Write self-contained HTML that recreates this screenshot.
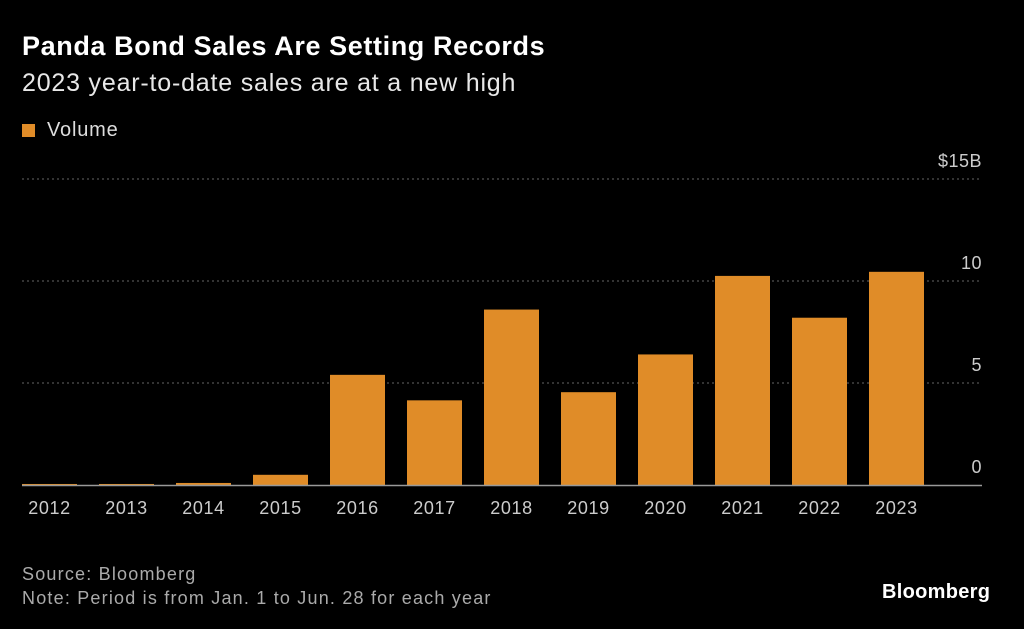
<!DOCTYPE html>
<html><head><meta charset="utf-8"><style>
body{margin:0;background:#000;width:1024px;height:629px;overflow:hidden;font-family:"Liberation Sans",sans-serif;color:#fff}
.t{position:absolute;white-space:nowrap}
</style></head><body>
<div class="t" style="left:22px;top:31px;font-size:27px;letter-spacing:0.6px;font-weight:bold">Panda Bond Sales Are Setting Records</div>
<div class="t" style="left:22px;top:69px;font-size:25px;letter-spacing:0.8px;color:#e8e8e8">2023 year-to-date sales are at a new high</div>
<div class="t" style="left:22px;top:119px;font-size:20px;letter-spacing:0.8px;color:#ddd"><span style="display:inline-block;width:13px;height:13px;background:#e08c28;margin-right:12px;vertical-align:-1px"></span>Volume</div>
<div class="t" style="left:22px;top:564px;font-size:18px;letter-spacing:1.2px;color:#aaa">Source: Bloomberg</div>
<div class="t" style="left:22px;top:588px;font-size:18px;letter-spacing:1.2px;color:#aaa">Note: Period is from Jan. 1 to Jun. 28 for each year</div>
<div class="t" style="left:882px;top:581px;font-size:20px;letter-spacing:0.3px;font-weight:bold">Bloomberg</div>
<svg id="c" width="1024" height="629" style="position:absolute;left:0;top:0"></svg>
<script>
const categories=["2012","2013","2014","2015","2016","2017","2018","2019","2020","2021","2022","2023"];
const volumes=[0.05,0.05,0.1,0.5,5.4,4.15,8.6,4.55,6.4,10.25,8.2,10.45];
const ticks=[0,5,10,15];
const tickLabels=["0","5","10","$15B"];
const svg=document.getElementById('c');const NS="http://www.w3.org/2000/svg";
const y0=485,ppu=20.4,x0=22,step=77,bw=55;
const y=v=>y0-v*ppu;const x=i=>x0+i*step;
function mk(t,a){const e=document.createElementNS(NS,t);for(const k in a)e.setAttribute(k,a[k]);svg.appendChild(e);return e;}
ticks.forEach((v,i)=>{
 if(v>0){const l=mk('line',{x1:22,x2:982,y1:y(v),y2:y(v),stroke:'#666','stroke-dasharray':'2,3'});
 
 }
 const t=mk('text',{x:982,y:y(v)-12,'text-anchor':'end',fill:'#ccc','font-size':18,'letter-spacing':0.5,'font-family':'Liberation Sans, sans-serif'});
 t.textContent=tickLabels[i];
 
 
});
categories.forEach((c,i)=>{
 const h=volumes[i]*ppu;
 const r=mk('rect',{x:x(i),y:y(volumes[i]),width:bw,height:h,fill:'#e08c28'});
 
 
 const t=mk('text',{x:x(i)+bw/2,y:514,'text-anchor':'middle',fill:'#ccc','font-size':18,'letter-spacing':0.6,'font-family':'Liberation Sans, sans-serif'});
 t.textContent=c;
 
 
});
const ax=mk('line',{x1:22,x2:982,y1:y0+0.5,y2:y0+0.5,stroke:'#999','stroke-width':1.5});


</script>
</body></html>
